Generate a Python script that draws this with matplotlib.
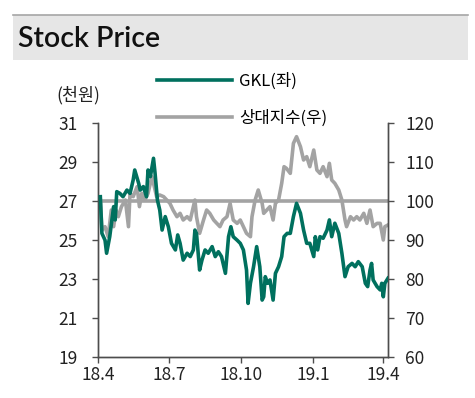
import matplotlib
matplotlib.use('Agg')
import matplotlib.pyplot as plt
from matplotlib.patches import Rectangle
import pandas as pd

plt.rcParams['font.family'] = ['Noto Sans CJK KR', 'DejaVu Sans']

# days since 2018-04-01
start = pd.Timestamp('2018-04-01')

gkl_day = [3, 5, 9, 11, 15, 20, 22, 24, 28, 32, 37, 41, 45, 47, 52, 54, 58, 62, 64, 67,
           71, 73, 76, 79, 82, 86, 90, 94, 99, 102, 105, 109, 114, 118, 122, 124, 126, 130,
           133, 137, 141, 146, 150, 154, 158, 163, 167, 170, 173, 178, 182, 186, 190, 192,
           195, 199, 203, 207, 210, 212, 214, 217, 220, 224, 227, 231, 235, 238, 242, 246,
           250, 254, 259, 263, 267, 271, 276, 278, 281, 284, 288, 293, 296, 299, 303, 308,
           312, 316, 320, 325, 329, 333, 338, 342, 345, 348, 350, 352, 357, 361, 363, 365,
           367, 371]
gkl_price = [27.22, 25.34, 24.99, 24.32, 25.17, 26.71, 26.03, 27.48, 27.39, 27.22, 27.56,
             27.39, 28.08, 28.59, 27.91, 27.56, 27.74, 27.22, 28.59, 28.25, 29.19, 28.42,
             27.05, 26.54, 25.51, 26.20, 25.68, 24.83, 24.49, 25.26, 24.83, 23.97, 24.32,
             24.15, 24.49, 25.51, 25.34, 23.46, 23.97, 24.49, 24.32, 24.66, 24.15, 24.40,
             24.15, 23.29, 25.17, 25.68, 25.17, 24.99, 24.83, 24.49, 23.46, 21.75, 22.78,
             23.63, 24.66, 23.63, 21.92, 22.09, 23.12, 22.78, 22.95, 21.92, 23.29, 23.63,
             24.15, 25.17, 25.34, 25.34, 26.20, 26.88, 26.37, 25.51, 24.83, 24.83, 24.15,
             25.17, 24.49, 25.17, 25.09, 25.51, 26.03, 25.17, 25.86, 25.34, 24.32, 23.12,
             23.63, 23.80, 23.63, 23.89, 23.63, 22.78, 22.61, 23.46, 23.80, 22.95, 22.61,
             22.44, 22.78, 22.09, 22.78, 23.04]

rel_day = [3, 5, 9, 13, 17, 20, 23, 26, 30, 35, 39, 41, 45, 50, 53, 56, 60, 64, 69, 72,
           75, 79, 84, 88, 92, 96, 101, 105, 109, 114, 118, 122, 124, 126, 130, 135, 139,
           143, 148, 152, 156, 160, 165, 169, 173, 178, 182, 186, 190, 195, 197, 201, 205,
           210, 212, 216, 220, 224, 227, 231, 235, 238, 241, 246, 250, 254, 259, 263, 267,
           271, 276, 280, 284, 288, 293, 296, 299, 303, 308, 312, 316, 318, 323, 327, 331,
           335, 340, 344, 348, 352, 357, 361, 365, 367, 371]
rel_index = [100.25, 92.56, 93.42, 90.85, 97.69, 93.42, 97.69, 95.98, 98.55, 100.25, 93.42,
             101.96, 101.11, 103.67, 98.55, 101.96, 100.25, 101.96, 106.24, 103.67, 101.11,
             101.54, 101.11, 100.25, 99.40, 97.69, 95.98, 96.84, 95.13, 95.98, 95.13, 98.55,
             100.25, 95.98, 91.71, 95.13, 97.69, 96.84, 95.13, 94.27, 93.42, 95.13, 95.98,
             99.40, 95.13, 94.27, 95.13, 93.42, 91.71, 90.85, 95.98, 100.25, 102.82, 99.40,
             96.84, 97.69, 98.55, 95.13, 99.40, 100.25, 104.53, 108.80, 108.38, 107.09,
             114.78, 116.49, 113.93, 110.51, 111.37, 108.80, 113.07, 107.95, 107.09, 108.80,
             106.24, 109.66, 105.38, 104.53, 102.82, 100.25, 95.13, 93.42, 95.98, 95.13,
             95.98, 95.13, 96.84, 94.27, 97.69, 93.42, 94.27, 94.27, 90.00, 93.42, 93.85]

gkl_dates = start + pd.to_timedelta(gkl_day, unit='D')
rel_dates = start + pd.to_timedelta(rel_day, unit='D')

xtick_dates = ['2018-04-01', '2018-07-01', '2018-10-01', '2019-01-01', '2019-04-01']
xtick_labels = ['18.4', '18.7', '18.10', '19.1', '19.4']

green = '#00705E'
gray = '#A3A3A3'
axis_col = '#4D4D4D'

fig = plt.figure(figsize=(4.75, 3.98), dpi=100)

# title band
fig.patches.append(Rectangle((13 / 475, 1 - 60 / 398), 455 / 475, 45 / 398,
                             transform=fig.transFigure, facecolor='#E6E6E6',
                             edgecolor='none', zorder=0))
fig.add_artist(plt.Line2D([13 / 475, 468 / 475], [1 - 15 / 398, 1 - 15 / 398],
                          transform=fig.transFigure, color='#A6A6A6', lw=1.2))
fig.text(18 / 475, 1 - 39 / 398, 'Stock Price', fontsize=20.5, family='Lato',
         fontweight='semibold', va='center', ha='left', color='#111111')

ax = fig.add_axes([98 / 475, 1 - 357 / 398, 290 / 475, 234 / 398])
ax2 = ax.twinx()

l1, = ax.plot(gkl_dates, gkl_price, color=green, lw=2.6, label='GKL(좌)', zorder=3)
l2, = ax2.plot(rel_dates, rel_index, color=gray, lw=2.6, label='상대지수(우)')
ax2.axhline(100, color=gray, lw=2.6)

ax.set_zorder(ax2.get_zorder() + 1)
ax.patch.set_visible(False)

ax.set_xlim(pd.Timestamp('2018-04-01'), pd.Timestamp('2019-04-07'))
ax.set_ylim(19, 31)
ax2.set_ylim(60, 120)
ax.set_yticks(range(19, 32, 2))
ax2.set_yticks(range(60, 121, 10))
ax.set_xticks(pd.to_datetime(xtick_dates))
ax.set_xticklabels(xtick_labels)

for a in (ax, ax2):
    a.spines['top'].set_visible(False)
    for s in ('left', 'right', 'bottom'):
        a.spines[s].set_color(axis_col)
        a.spines[s].set_linewidth(1.0)
    a.tick_params(colors=axis_col, labelcolor='#222222', labelsize=12.5,
                  length=4.5, width=1.0, direction='out')
ax.tick_params(axis='y', pad=10)
ax2.tick_params(axis='y', pad=8)
ax.tick_params(axis='x', pad=2)

fig.text(78 / 475, 1 - 95 / 398, '(천원)', fontsize=12.5, ha='center', va='center',
         color='#222222')

fig.legend(handles=[l1, l2], loc='upper left', bbox_to_anchor=(157 / 475, 1 - 73 / 398),
           frameon=False, fontsize=12, handlelength=4.5, handletextpad=0.45,
           labelspacing=1.15, borderaxespad=0, borderpad=0)

fig.savefig('out.png', dpi=100)
